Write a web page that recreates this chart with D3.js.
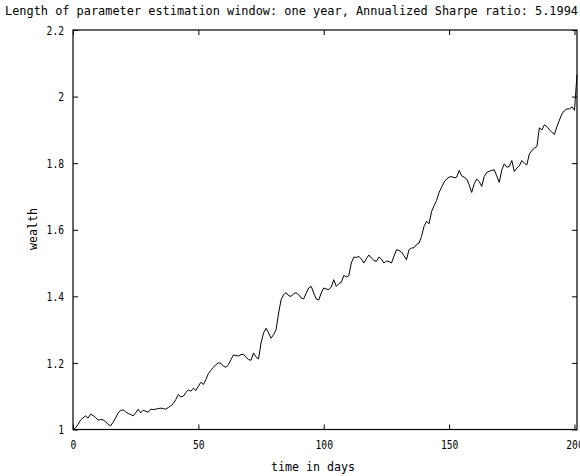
<!DOCTYPE html>
<html>
<head>
<meta charset="utf-8">
<script src="https://cdn.jsdelivr.net/npm/d3@7"></script>
<style>
  body { margin: 0; background: #fff; }
  text { font-family: "DejaVu Sans Mono", monospace; fill: #000; }
</style>
</head>
<body>
<div id="chart"></div>
<script>
// wealth by day
const days = d3.range(0, 202);
const wealth = [
  1.000, 1.005, 1.015, 1.028, 1.035, 1.041, 1.034, 1.046, 1.042, 1.036,
  1.028, 1.030, 1.029, 1.023, 1.016, 1.011, 1.022, 1.035, 1.050, 1.057,
  1.059, 1.053, 1.048, 1.045, 1.041, 1.050, 1.061, 1.050, 1.058, 1.055,
  1.052, 1.061, 1.060, 1.061, 1.063, 1.064, 1.063, 1.061, 1.066, 1.071,
  1.078, 1.090, 1.105, 1.098, 1.100, 1.111, 1.119, 1.115, 1.124, 1.117,
  1.130, 1.142, 1.135, 1.150, 1.168, 1.178, 1.187, 1.195, 1.200, 1.199,
  1.190, 1.187, 1.195, 1.210, 1.224, 1.222, 1.221, 1.225, 1.226, 1.217,
  1.210, 1.208, 1.230, 1.218, 1.212, 1.260, 1.290, 1.304, 1.290, 1.274,
  1.285, 1.300, 1.350, 1.390, 1.405, 1.411, 1.402, 1.400, 1.408, 1.411,
  1.405, 1.395, 1.392, 1.410, 1.425, 1.430, 1.410, 1.392, 1.389, 1.410,
  1.425, 1.422, 1.420, 1.428, 1.450, 1.430, 1.438, 1.442, 1.463, 1.458,
  1.462, 1.500, 1.518, 1.517, 1.520, 1.512, 1.500, 1.513, 1.524, 1.515,
  1.508, 1.505, 1.518, 1.512, 1.500, 1.506, 1.505, 1.500, 1.520, 1.540,
  1.538, 1.533, 1.522, 1.510, 1.540, 1.545, 1.546, 1.555, 1.560, 1.580,
  1.610, 1.625, 1.618, 1.655, 1.672, 1.688, 1.712, 1.728, 1.743, 1.752,
  1.758, 1.760, 1.756, 1.758, 1.778, 1.762, 1.758, 1.752, 1.735, 1.712,
  1.738, 1.752, 1.745, 1.730, 1.760, 1.772, 1.776, 1.778, 1.780, 1.762,
  1.742, 1.780, 1.798, 1.788, 1.790, 1.808, 1.775, 1.785, 1.792, 1.808,
  1.800, 1.795, 1.828, 1.838, 1.845, 1.850, 1.906, 1.900, 1.915, 1.910,
  1.900, 1.893, 1.886, 1.910, 1.930, 1.948, 1.958, 1.963, 1.963, 1.969,
  1.959, 2.066
];
const xTicks = [0, 50, 100, 150, 200];
const yTicks = [1, 1.2, 1.4, 1.6, 1.8, 2, 2.2];
const titleText = "Length of parameter estimation window: one year, Annualized Sharpe ratio: 5.1994";

const width = 580, height = 476;
const margin = {top: 30, right: 3, bottom: 46.5, left: 73};
const innerW = width - margin.left - margin.right;
const innerH = height - margin.top - margin.bottom;

const svg = d3.select("#chart").append("svg")
    .attr("width", width)
    .attr("height", height);

const x = d3.scaleLinear().domain([0, 201]).range([0, innerW]);
const y = d3.scaleLinear().domain([1, 2.2]).range([innerH, 0]);

const g = svg.append("g")
    .attr("transform", `translate(${margin.left},${margin.top})`);

const fmt = d => String(d);

// narrow, tall labels like the original's font
function narrow(sel) {
    sel.attr("font-size", 13)
        .attr("font-family", "DejaVu Sans Mono")
        .attr("lengthAdjust", "spacingAndGlyphs")
        .attr("textLength", function() { return this.textContent.length * 5.8; });
}

g.append("g")
    .attr("transform", `translate(0,${innerH})`)
    .call(d3.axisBottom(x).tickValues(xTicks).tickSize(-5).tickPadding(10).tickFormat(fmt))
    .call(a => a.select(".domain").remove())
    .call(a => a.selectAll("text").call(narrow));

g.append("g")
    .call(d3.axisLeft(y).tickValues(yTicks).tickSize(-5).tickPadding(9).tickFormat(fmt))
    .call(a => a.select(".domain").remove())
    .call(a => a.selectAll("text").call(narrow));

// mirrored ticks on top and right
g.append("g")
    .call(d3.axisTop(x).tickValues(xTicks).tickSize(-5).tickFormat(""))
    .call(a => a.select(".domain").remove());

g.append("g")
    .attr("transform", `translate(${innerW},0)`)
    .call(d3.axisRight(y).tickValues(yTicks).tickSize(-5).tickFormat(""))
    .call(a => a.select(".domain").remove());

g.selectAll(".tick line").attr("stroke", "#000");

// the box
g.append("rect")
    .attr("width", innerW)
    .attr("height", innerH)
    .attr("fill", "none")
    .attr("stroke", "#000")
    .attr("stroke-width", 1.2);

const line = d3.line()
    .x((d, i) => x(days[i]))
    .y(d => y(d));

g.append("path")
    .datum(wealth)
    .attr("fill", "none")
    .attr("stroke", "#000")
    .attr("stroke-width", 1)
    .attr("d", line);

svg.append("text")
    .attr("x", 5)
    .attr("y", 15)
    .attr("font-size", 13)
    .attr("textLength", 573)
    .attr("lengthAdjust", "spacingAndGlyphs")
    .text(titleText);

svg.append("text")
    .attr("x", 313)
    .attr("y", 471)
    .attr("text-anchor", "middle")
    .attr("font-size", 13)
    .attr("textLength", 84)
    .attr("lengthAdjust", "spacingAndGlyphs")
    .text("time in days");

svg.append("text")
    .attr("transform", "translate(37,229) rotate(-90)")
    .attr("text-anchor", "middle")
    .attr("font-size", 13)
    .attr("textLength", 42)
    .attr("lengthAdjust", "spacingAndGlyphs")
    .text("wealth");
</script>
</body>
</html>
